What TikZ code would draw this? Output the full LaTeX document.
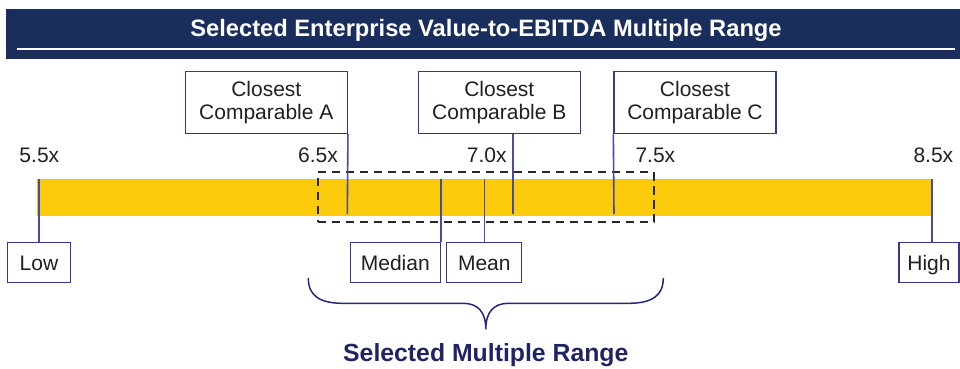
\documentclass[tikz,border=0pt]{standalone}
\usepackage{fontspec}
\setmainfont{Liberation Sans}
\definecolor{hdrnavy}{RGB}{26,46,94}
\definecolor{boxcol}{RGB}{52,56,145}
\definecolor{tickcol}{RGB}{72,77,162}
\definecolor{bracecol}{RGB}{35,40,120}
\definecolor{btmtext}{RGB}{33,36,100}
\definecolor{labelgray}{RGB}{35,31,32}
\definecolor{barcol}{RGB}{251,202,10}
\definecolor{dashcol}{RGB}{40,40,40}
\begin{document}
\begin{tikzpicture}[x=1pt,y=-1pt,
  lbl/.style={font=\fontsize{21}{22.3}\selectfont, text=labelgray, inner sep=0pt, anchor=base west},
  cbox/.style={draw=boxcol, line width=1.3pt, fill=white, align=center, minimum width=162pt, minimum height=62pt, inner sep=0pt, font=\fontsize{21}{22.3}\selectfont, text=labelgray},
  sbox/.style={draw=boxcol, line width=1.3pt, fill=white, minimum height=40pt, inner sep=0pt, text height=15pt, text depth=0pt, font=\fontsize{21}{22.3}\selectfont, text=labelgray},
  tick/.style={draw=tickcol, line width=1.6pt},
  selbox/.style={draw=dashcol, line width=1.7pt, dash pattern=on 8.3pt off 5.7pt},
  bracestyle/.style={draw=bracecol, line width=1.5pt}]
\useasboundingbox (0,0) rectangle (960,369);
% header
\fill[hdrnavy] (6,9) rectangle (960,59);
\draw[white, line width=2.2pt] (16.7,49) -- (955,49);
\node[anchor=base, text=white, font=\fontsize{23.7}{28}\selectfont\bfseries, inner sep=0pt] (title) at (486,37) {Selected Enterprise Value-to-EBITDA Multiple Range};
% bar
\node[fill=barcol, minimum width=895pt, minimum height=37pt, inner sep=0pt] (bar) at (484.5,197.5) {};
% dashed selection
\node[selbox, minimum width=336.3pt, minimum height=50pt, inner sep=0pt] (sel) at (485.85,197.3) {};
% scale labels
\node[lbl] (v55) at (19.3,162) {5.5x};
\node[lbl] (v65) at (298,162) {6.5x};
\node[lbl] (v70) at (466.7,162) {7.0x};
\node[lbl] (v75) at (635.3,162) {7.5x};
\node[lbl] (v85) at (913.3,162) {8.5x};
% comparable boxes
\node[cbox] (cA) at (266.3,102.5) {Closest\\Comparable A};
\node[cbox] (cB) at (499.3,102.5) {Closest\\Comparable B};
\node[cbox] (cC) at (695,102.5) {Closest\\Comparable C};
\coordinate (pA) at (347.3,214);
\coordinate (pB) at (512.7,214);
\coordinate (pC) at (614,214);
\draw[tick] (cA.south east) -- (pA);
\draw[tick] (pB |- cB.south) -- (pB);
\draw[tick] (cC.south west) -- (pC);
% lower boxes
\node[sbox, minimum width=63pt] (low) at (39,262.6) {Low};
\node[sbox, minimum width=90pt] (median) at (395.3,262.6) {Median};
\node[sbox, minimum width=75pt] (mean) at (484.3,262.6) {Mean};
\node[sbox, minimum width=60pt] (high) at (929,262.6) {High};
\coordinate (tH) at (932,179);
\draw[tick] (low.north) -- (low.north |- bar.north);
\draw[tick] (median.north east) -- (median.north east |- bar.north);
\draw[tick] (mean.north) -- (mean.north |- bar.north);
\draw[tick] (tH) -- (tH |- high.north);
% brace
\draw[bracestyle] (308.3,278) .. controls (308.3,296) and (320,303.3) .. (343,303.3)
  -- (463,303.3) .. controls (478,303.3) and (485.8,312) .. (485.8,329.3)
  .. controls (485.8,312) and (493.6,303.3) .. (508.6,303.3)
  -- (628.6,303.3) .. controls (651.6,303.3) and (663.3,296) .. (663.3,278);
\node[anchor=base, text=btmtext, font=\fontsize{24.8}{28}\selectfont\bfseries, inner sep=0pt] (selrange) at (485.8,361.7) {Selected Multiple Range};
\end{tikzpicture}
\end{document}
